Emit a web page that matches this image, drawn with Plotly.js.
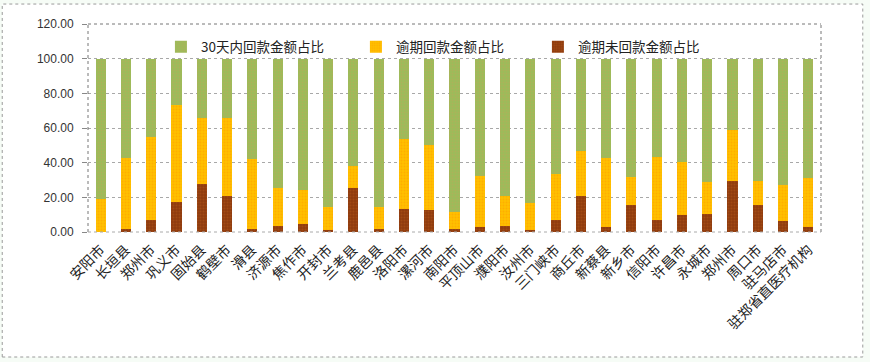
<!DOCTYPE html>
<html>
<head>
<meta charset="utf-8">
<script src="https://cdn.plot.ly/plotly-3.0.1.min.js"></script>
<style>
html,body{margin:0;padding:0;background:#f6fcf6;}
#chart{width:870px;height:362px;}
</style>
</head>
<body>
<div id="chart"></div>
<script>
const categories = ['安阳市','长垣县','郑州市','巩义市','固始县','鹤壁市','滑县','济源市','焦作市','开封市','兰考县','鹿邑县','洛阳市','漯河市','南阳市','平顶山市','濮阳市','汝州市','三门峡市','商丘市','新蔡县','新乡市','信阳市','许昌市','永城市','郑州市','周口市','驻马店市','驻郑省直医疗机构'];
const within30 = [81.2, 57.3, 45.2, 26.9, 34.0, 34.0, 57.7, 74.6, 75.6, 85.8, 62.1, 85.4, 46.2, 50.0, 88.7, 67.9, 79.4, 83.3, 66.5, 53.3, 57.3, 68.1, 56.9, 59.8, 71.3, 41.0, 70.4, 73.1, 68.8];
const overduePaid = [18.8, 41.2, 47.7, 56.0, 38.1, 45.0, 40.8, 21.9, 19.8, 13.0, 12.5, 13.1, 40.7, 37.3, 9.8, 29.0, 17.1, 15.7, 26.8, 26.1, 40.0, 16.1, 36.0, 30.4, 18.5, 29.6, 14.2, 20.7, 28.3];
const overdueUnpaid = [0.0, 1.5, 7.1, 17.1, 27.9, 21.0, 1.5, 3.5, 4.6, 1.2, 25.4, 1.5, 13.1, 12.7, 1.5, 3.1, 3.5, 1.0, 6.7, 20.6, 2.7, 15.8, 7.1, 9.8, 10.2, 29.4, 15.4, 6.2, 2.9];
const yTicks = [0, 20, 40, 60, 80, 100, 120];

const idx = categories.map((c, i) => i);

function pat(fg) {
  return {shape: '.', fgcolor: fg, size: 3, solidity: 0.35, fillmode: 'overlay'};
}

const traces = [
  {type: 'bar', name: '逾期未回款金额占比', x: idx, y: overdueUnpaid, legend: 'legend3',
   marker: {color: '#8f3b0e', pattern: pat('#b35a1a'), line: {width: 0}}, hoverinfo: 'y'},
  {type: 'bar', name: '逾期回款金额占比', x: idx, y: overduePaid, legend: 'legend2',
   marker: {color: '#ffc000', pattern: pat('#ff9c00'), line: {width: 0}}, hoverinfo: 'y'},
  {type: 'bar', name: '30天内回款金额占比', x: idx, y: within30, legend: 'legend',
   marker: {color: '#9bbb59', pattern: pat('#c0a75a'), line: {width: 0}}, hoverinfo: 'y'}
];

const legFont = {family: 'Noto Sans CJK SC, sans-serif', size: 13.5, color: '#222'};
function leg(x) {
  return {orientation: 'h', x: x, y: 0.889, xanchor: 'left', yanchor: 'middle',
          bgcolor: 'rgba(0,0,0,0)', font: legFont, itemwidth: 30};
}

const layout = {
  width: 870, height: 362,
  margin: {l: 88, r: 49, t: 24, b: 130},
  paper_bgcolor: '#f6fcf6',
  plot_bgcolor: 'rgba(0,0,0,0)',
  barmode: 'stack',
  bargap: 0.6,
  showlegend: true,
  legend: leg(0.0995),
  legend2: leg(0.3655),
  legend3: leg(0.6138),
  xaxis: {
    range: [-0.5, 28.5],
    tickmode: 'array', tickvals: idx, ticktext: categories,
    tickangle: -45,
    tickfont: {family: 'Noto Sans CJK SC, sans-serif', size: 14, color: '#222'},
    showgrid: false, zeroline: false,
    showline: false,
    ticks: '', ticklabelstandoff: 6, fixedrange: true
  },
  yaxis: {
    range: [0, 120],
    tickmode: 'array', tickvals: yTicks,
    tickformat: '.2f',
    tickfont: {family: 'Liberation Sans, Arial, sans-serif', size: 12, color: '#333'},
    showgrid: true, gridcolor: '#a8a8a8', griddash: 'dot', gridwidth: 1,
    zeroline: false, showline: false,
    ticks: 'outside', ticklen: 5, tickcolor: '#888',
    ticklabelstandoff: 6, fixedrange: true
  },
  shapes: [
    {type: 'rect', xref: 'paper', yref: 'paper', x0: -0.117, x1: 1.057, y0: -0.601, y1: 1.096,
     fillcolor: '#ffffff', line: {color: '#9a9a9a', width: 1, dash: 'dot'}, layer: 'below'},
    {type: 'line', xref: 'paper', yref: 'paper', x0: 0, x1: 0, y0: 0, y1: 1,
     line: {color: '#777', width: 1, dash: 'dot'}},
    {type: 'line', xref: 'paper', yref: 'paper', x0: 1, x1: 1, y0: 0, y1: 1,
     line: {color: '#777', width: 1, dash: 'dot'}},
    {type: 'line', xref: 'paper', yref: 'paper', x0: 0, x1: 1, y0: 1, y1: 1,
     line: {color: '#777', width: 1, dash: 'dot'}},
    {type: 'line', xref: 'paper', yref: 'paper', x0: 0, x1: 1, y0: 0, y1: 0,
     line: {color: '#aaa', width: 1, dash: 'dot'}}
  ]
};

Plotly.newPlot('chart', traces, layout, {displayModeBar: false, staticPlot: true});
</script>
</body>
</html>
